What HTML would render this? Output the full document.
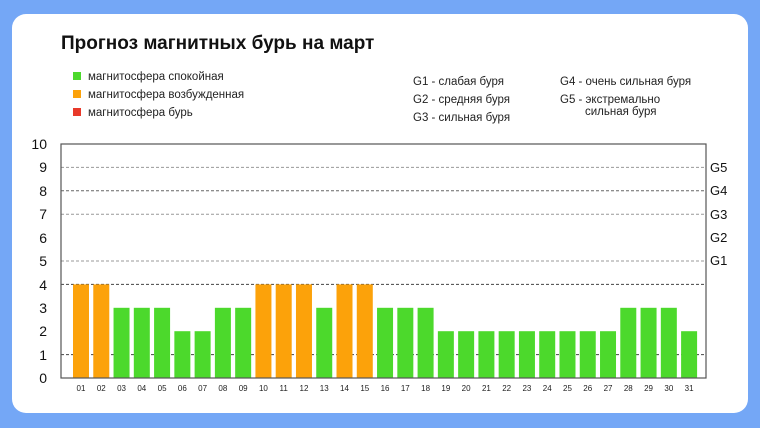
<!DOCTYPE html>
<html><head><meta charset="utf-8"><style>
body{margin:0;width:760px;height:428px;background:#74a7f6;overflow:hidden;font-family:"Liberation Sans",sans-serif;}
.card{position:absolute;left:12px;top:14px;width:736px;height:399px;background:#fff;border-radius:14px;}
</style></head><body>
<div class="card"></div>
<svg width="760" height="428" style="position:absolute;left:0;top:0" font-family="Liberation Sans, sans-serif">
<text x="61" y="49" font-size="19" font-weight="bold" fill="#111">Прогноз магнитных бурь на март</text>
<g font-size="11.5" fill="#222">
<rect x="73" y="72" width="8" height="8" fill="#4cd92c"/><text x="88" y="80">магнитосфера спокойная</text>
<rect x="73" y="90" width="8" height="8" fill="#fca20a"/><text x="88" y="98">магнитосфера возбужденная</text>
<rect x="73" y="108" width="8" height="8" fill="#e8392a"/><text x="88" y="116">магнитосфера бурь</text>
<text x="413" y="85">G1 - слабая буря</text>
<text x="413" y="103">G2 - средняя буря</text>
<text x="413" y="121">G3 - сильная буря</text>
<text x="560" y="85">G4 - очень сильная буря</text>
<text x="560" y="103">G5 - экстремально</text>
<text x="585" y="115">сильная буря</text>
</g>
<g stroke="#999" stroke-dasharray="3,2" stroke-width="1">
<line x1="61" x2="706" y1="167.4" y2="167.4"/><line x1="61" x2="706" y1="190.8" y2="190.8" stroke="#666"/>
<line x1="61" x2="706" y1="214.2" y2="214.2"/><line x1="61" x2="706" y1="261" y2="261"/>
<line x1="61" x2="706" y1="284.4" y2="284.4" stroke="#444"/><line x1="61" x2="706" y1="354.6" y2="354.6" stroke="#444"/>
</g>
<g id="bars"></g>
<rect x="61" y="144" width="645" height="234" fill="none" stroke="#555" stroke-width="1.2"/>
<g font-size="14" fill="#111" text-anchor="end">
<text x="47" y="383">0</text><text x="47" y="360">1</text><text x="47" y="336">2</text><text x="47" y="313">3</text><text x="47" y="290">4</text><text x="47" y="266">5</text><text x="47" y="243">6</text><text x="47" y="219">7</text><text x="47" y="196">8</text><text x="47" y="172">9</text><text x="47" y="149">10</text>
</g>
<g font-size="13" fill="#111">
<text x="710" y="172">G5</text><text x="710" y="195">G4</text><text x="710" y="219">G3</text><text x="710" y="242">G2</text><text x="710" y="265">G1</text>
</g>
<g id="xl" font-size="8" fill="#222" text-anchor="middle"></g>
</svg>
<script>
var v=[4,4,3,3,3,2,2,3,3,4,4,4,3,4,4,3,3,3,2,2,2,2,2,2,2,2,2,3,3,3,2];
var b=document.getElementById('bars'),xl=document.getElementById('xl'),ns='http://www.w3.org/2000/svg';
v.forEach(function(h,i){var x=73+i*20.27;var r=document.createElementNS(ns,'rect');r.setAttribute('x',x);r.setAttribute('width',16);r.setAttribute('y',378-23.4*h);r.setAttribute('height',23.4*h);r.setAttribute('fill',h>=4?'#fca20a':'#4cd92c');b.appendChild(r);
var t=document.createElementNS(ns,'text');t.setAttribute('x',x+8);t.setAttribute('y',391);t.textContent=(i<9?'0':'')+(i+1);xl.appendChild(t);});
</script>
</body></html>
